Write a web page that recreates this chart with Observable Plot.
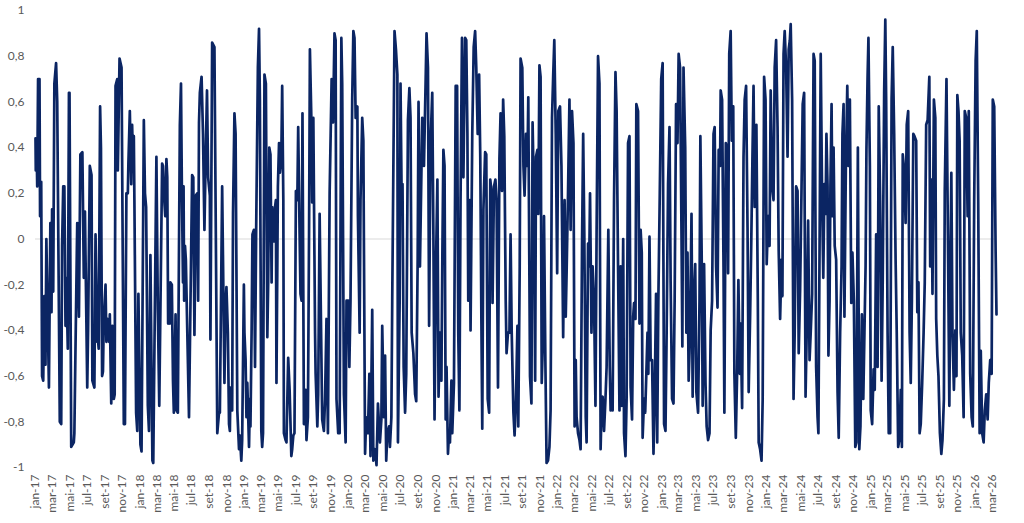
<!DOCTYPE html>
<html>
<head>
<meta charset="utf-8">
<script src="https://cdn.jsdelivr.net/npm/d3@7"></script>
<script src="https://cdn.jsdelivr.net/npm/@observablehq/plot@0.6"></script>
<style>
  html, body { margin: 0; padding: 0; background: #ffffff; }
  #chart { width: 1024px; height: 523px; }
</style>
</head>
<body>
<div id="chart"></div>
<script>
// Series start date (day 0)
const seriesStart = "2017-01-01";
// Days elapsed since seriesStart for each observation
const dayOffsets = [
0,1,4,6,9,14,16,20,23,27,31,35,38,47,52,56,58,62,66,72,76,85,90,93,97,101,105,108,113,117,119,125,134,136,140,146,152,157,164,169,173,181,184,190,196,199,206,210,216,218,221,226,229,233,236,239,245,248,253,258,260,265,269,274,277,280,286,288,294,
301,309,313,318,323,325,330,335,338,342,344,346,352,356,360,367,371,379,383,387,393,397,402,409,412,423,428,433,443,446,449,454,458,461,464,468,470,472,477,481,484,490,493,498,505,509,512,516,518,520,523,526,537,548,552,556,561,566,569,572,575,581,586,591,596,600,604,610,612,618,626,636,642,645,
653,661,665,668,673,677,680,682,688,691,696,700,706,712,715,720,723,729,731,735,738,741,747,750,752,756,759,764,768,772,778,782,785,790,793,796,801,806,811,814,818,822,826,828,834,838,841,843,848,852,855,860,863,867,869,875,878,884,889,895,898,902,906,911,916,919,924,927,931,934,939,945,948,953,957,960,965,968,972,978,980,986,989,994,
1003,1009,1013,1018,1023,1029,1036,1041,1046,1050,1053,1059,1064,1070,1073,1079,1085,1088,1094,1098,1102,1108,1112,1116,1120,1126,1128,1134,1137,1143,1147,1153,1157,1163,1168,1172,1178,1182,1188,1193,1198,1205,1210,1213,1219,1223,1227,1231,1237,1240,1245,1248,1252,1256,1261,1266,1268,1274,1277,1281,1284,1288,1293,1297,1303,1308,1312,1316,1322,1328,1332,1337,1340,1345,
1353,1359,1365,1368,1373,1377,1382,1388,1392,1396,1401,1406,1410,1415,1420,1423,1427,1431,1435,1438,1443,1447,1450,1455,1458,1464,1470,1475,1479,1483,1487,1492,1497,1503,1507,1511,1514,1519,1522,1528,1533,1538,1542,1547,1552,1556,1560,1563,1567,1573,1577,1582,1587,1591,1596,1599,1604,1609,1613,1618,1623,1627,1632,1636,1640,1645,1648,1653,1658,1662,1666,1672,1676,1681,1686,1689,1694,
1697,1703,1707,1711,1716,1721,1724,1730,1735,1739,1744,1748,1751,1756,1759,1763,1767,1771,1776,1779,1784,1788,1793,1798,1802,1807,1811,1815,1820,1825,1829,1835,1840,1846,1851,1855,1858,1863,1868,1872,1877,1882,1886,1890,1893,1898,1903,1907,1912,1916,1920,1925,1928,1933,1937,1940,1945,1949,1954,1959,1963,1968,1973,1977,1981,1984,1989,1994,1998,2004,2009,2012,2016,2019,2024,2029,2033,2038,2043,
2047,2051,2056,2059,2064,2068,2073,2078,2082,2087,2091,2094,2099,2102,2108,2113,2117,2121,2124,2129,2133,2137,2141,2144,2148,2152,2157,2162,2166,2171,2175,2179,2184,2189,2194,2199,2204,2208,2213,2218,2222,2227,2232,2236,2241,2246,2250,2255,2260,2263,2267,2273,2277,2281,2285,2290,2295,2299,2303,2308,2312,2318,2323,2326,2331,2334,2339,2344,2348,2353,2358,2362,2367,2372,2376,2381,2386,2390,2395,
2397,2402,2407,2410,2415,2420,2423,2427,2432,2436,2441,2445,2450,2455,2459,2464,2467,2472,2477,2481,2486,2491,2495,2500,2504,2508,2512,2516,2522,2527,2530,2535,2540,2544,2549,2554,2558,2563,2568,2572,2577,2582,2586,2591,2596,2600,2605,2610,2613,2617,2621,2626,2631,2635,2639,2642,2647,2652,2656,2661,2666,2670,2675,2680,2684,2689,2694,2698,2703,2708,2712,2717,2722,2726,2731,2736,2739,2744,
2747,2752,2756,2760,2764,2767,2771,2774,2778,2781,2785,2788,2792,2796,2801,2806,2810,2815,2820,2823,2827,2830,2835,2840,2844,2849,2854,2858,2863,2868,2872,2877,2882,2886,2891,2896,2900,2904,2907,2911,2914,2919,2922,2927,2932,2936,2941,2946,2950,2955,2960,2964,2969,2973,2976,2981,2985,2990,2995,2999,3004,3009,3013,3018,3023,3027,3031,3034,3039,3044,3048,3053,3058,3062,3066,3071,3075,
3081,3085,3089,3093,3097,3102,3107,3111,3116,3121,3127,3130,3135,3138,3143,3148,3151,3155,3159,3164,3169,3173,3178,3181,3187,3192,3197,3200,3204,3208,3213,3218,3222,3225,3229,3233,3237,3242,3247,3251,3256,3261,3265,3270,3275,3279,3284,3289,3293,3298,3303,3307,3312,3317,3321,3326,3331,3335,3340,3345,3349,3354,3359,3362
];
// Correlation values
const values = [
0.44,0.30,0.40,0.23,0.70,0.70,0.10,0.25,-0.60,-0.62,-0.25,-0.55,0.00,-0.65,0.07,-0.32,0.13,-0.23,0.68,0.77,0.60,-0.80,-0.81,-0.03,0.23,0.23,-0.38,-0.17,-0.48,0.64,0.64,-0.91,-0.89,-0.85,-0.47,0.07,-0.34,0.37,0.38,-0.17,0.12,-0.65,-0.40,0.32,0.28,-0.62,-0.65,0.02,-0.45,-0.43,-0.48,0.58,0.40,-0.60,-0.58,-0.35,-0.20,-0.45,-0.35,-0.45,-0.33,-0.72,-0.38,-0.70,-0.68,0.67,0.70,0.30,0.79,
0.75,-0.81,-0.81,0.20,0.20,0.33,0.56,0.24,0.50,0.30,0.45,0.17,-0.76,-0.84,-0.24,-0.90,-0.93,0.52,0.20,0.14,-0.73,-0.84,-0.07,-0.97,-0.98,0.36,-0.31,-0.73,0.33,0.32,0.20,0.10,0.35,0.27,-0.37,-0.24,-0.37,-0.19,-0.20,-0.62,-0.76,-0.33,-0.75,-0.76,0.50,0.68,0.23,-0.19,0.23,-0.27,-0.03,-0.09,-0.78,0.28,0.27,-0.42,0.19,0.20,-0.27,0.51,0.64,0.71,0.46,0.04,0.40,0.65,0.27,0.19,-0.44,0.86,0.84,-0.85,-0.76,-0.76,
0.23,-0.63,-0.28,-0.21,-0.41,-0.81,-0.84,-0.65,-0.75,0.11,0.55,0.46,-0.75,-0.92,-0.86,-0.97,-0.88,-0.20,-0.41,-0.53,-0.78,-0.63,-0.91,-0.70,-0.82,-0.41,0.02,0.04,-0.56,0.04,0.75,0.92,0.61,-0.84,-0.91,-0.85,0.72,0.68,-0.43,-0.19,0.40,0.37,-0.19,0.14,-0.01,0.14,0.17,-0.63,0.23,0.42,0.29,0.36,0.67,0.17,-0.85,-0.88,-0.89,-0.52,-0.66,-0.95,-0.92,-0.86,-0.85,0.21,0.17,0.49,0.02,-0.24,-0.27,0.55,-0.81,-0.66,-0.88,-0.78,0.02,0.83,0.53,0.16,0.53,-0.41,-0.59,-0.82,-0.68,0.11,
-0.79,-0.84,-0.70,-0.35,-0.85,0.20,0.70,0.51,0.90,0.87,-0.70,-0.85,-0.85,0.88,0.68,-0.68,-0.89,-0.27,-0.27,-0.56,-0.27,0.61,0.91,0.88,0.53,0.58,0.10,-0.41,0.17,0.53,0.43,-0.94,-0.78,-0.85,-0.59,-0.95,-0.31,-0.97,-0.92,-0.99,-0.72,-0.89,-0.79,-0.38,-0.78,-0.51,-0.97,-0.85,-0.82,-0.91,-0.78,-0.27,0.32,0.91,0.83,0.72,-0.89,-0.27,0.68,0.17,0.24,-0.56,-0.76,-0.59,0.52,0.66,0.53,-0.41,-0.50,-0.68,-0.71,-0.09,0.60,-0.12,
0.53,0.32,0.70,0.90,0.75,-0.38,0.42,0.64,0.02,-0.79,-0.12,0.26,-0.69,-0.41,-0.62,-0.12,0.39,0.32,-0.79,-0.56,-0.94,-0.84,-0.89,-0.62,-0.85,-0.63,0.67,0.67,-0.41,-0.75,0.17,0.88,0.27,0.88,0.87,0.46,-0.27,0.17,-0.40,0.46,0.84,0.91,0.75,0.46,0.72,0.36,-0.37,-0.83,0.13,0.38,0.37,-0.70,-0.76,0.26,0.20,-0.28,0.23,0.26,0.17,-0.65,0.35,0.55,0.21,0.61,0.45,-0.27,-0.50,-0.41,-0.41,0.02,-0.41,-0.76,-0.86,-0.70,-0.38,-0.82,-0.12,
0.79,0.75,0.32,0.19,0.46,0.32,0.62,-0.60,-0.72,0.51,0.17,-0.62,0.36,0.39,0.11,0.76,0.71,-0.63,-0.41,0.10,-0.56,-0.98,-0.97,-0.91,-0.75,0.53,0.71,0.87,0.46,-0.15,0.56,0.58,0.32,-0.43,0.17,-0.34,-0.15,0.20,0.61,0.04,0.56,0.42,-0.82,-0.53,-0.78,-0.85,-0.88,-0.92,-0.03,0.46,0.02,-0.78,-0.89,-0.02,-0.12,0.20,-0.41,-0.12,-0.27,-0.73,0.03,0.80,0.68,-0.92,-0.70,-0.69,-0.84,-0.70,-0.56,0.04,-0.56,-0.75,-0.66,-0.75,0.17,0.73,0.56,-0.12,-0.75,
-0.12,-0.73,0.00,-0.85,-0.95,-0.70,0.42,0.45,-0.65,-0.79,-0.34,-0.28,-0.35,0.59,0.56,-0.37,0.04,-0.06,-0.87,-0.70,-0.76,-0.59,-0.41,-0.59,0.01,-0.53,-0.53,-0.94,-0.70,-0.24,-0.89,-0.27,0.20,0.70,0.77,-0.81,-0.84,-0.41,0.24,0.49,-0.19,-0.70,-0.72,-0.27,0.59,0.42,0.81,0.75,0.02,-0.47,0.75,0.40,-0.41,-0.06,-0.62,-0.41,0.11,-0.69,-0.27,-0.11,-0.67,-0.76,-0.27,0.45,-0.12,-0.73,-0.11,-0.63,-0.82,-0.88,-0.85,-0.40,-0.27,0.46,0.49,-0.12,-0.30,0.39,0.32,
0.65,0.61,-0.12,-0.76,0.42,0.39,-0.15,0.81,0.91,0.43,0.58,-0.59,-0.87,-0.56,-0.18,-0.59,-0.37,-0.74,0.36,0.61,0.67,0.05,-0.67,-0.34,-0.02,0.34,0.67,0.14,0.50,-0.27,-0.89,-0.92,-0.97,-0.70,0.71,0.61,-0.11,0.10,-0.03,0.65,0.23,0.17,0.75,0.87,0.49,-0.05,-0.35,-0.09,-0.25,0.81,0.91,0.75,0.36,0.83,0.87,0.94,0.61,-0.70,-0.41,0.23,0.21,-0.50,-0.22,0.23,0.59,0.64,-0.69,-0.41,0.08,-0.53,-0.41,-0.24,0.81,0.78,-0.56,-0.78,-0.85,0.17,
0.81,0.17,-0.17,0.24,0.11,0.46,0.23,-0.51,-0.27,0.23,0.59,0.10,0.40,-0.03,-0.09,-0.67,-0.87,-0.41,-0.12,0.46,0.59,-0.34,0.32,0.67,0.32,0.61,-0.28,-0.06,-0.27,-0.91,-0.89,0.40,-0.92,-0.82,-0.33,-0.70,-0.41,-0.12,0.39,0.71,0.88,0.32,-0.75,-0.81,-0.57,-0.66,0.02,-0.56,0.58,0.17,-0.62,-0.18,0.64,0.96,0.61,-0.41,-0.85,-0.85,0.61,0.84,0.46,-0.09,-0.41,-0.91,-0.87,-0.66,-0.91,0.37,0.30,0.07,0.50,0.56,-0.41,-0.63,-0.27,0.46,0.45,
0.43,-0.32,-0.19,-0.85,-0.81,-0.63,-0.41,-0.19,0.50,0.52,0.71,-0.12,0.26,-0.24,0.61,0.53,-0.35,-0.51,-0.60,-0.85,-0.94,-0.88,-0.70,0.21,0.70,0.02,-0.73,-0.24,0.29,-0.41,-0.66,-0.40,-0.60,0.63,0.56,0.43,-0.41,-0.51,-0.78,0.56,0.53,0.10,0.56,-0.59,-0.78,-0.82,0.17,0.78,0.91,0.17,-0.85,-0.49,-0.85,-0.89,-0.75,-0.68,-0.79,-0.63,-0.53,-0.59,0.61,0.58,-0.06,-0.33
];
// Axis tick values and labels
const monthNames = ["jan","fev","mar","abr","mai","jun","jul","ago","set","out","nov","dez"];
const yTicks = [-1, -0.8, -0.6, -0.4, -0.2, 0, 0.2, 0.4, 0.6, 0.8, 1];
const xTickStart = "2017-01-01";
const xTickEnd = "2026-03-01";

const start = new Date(seriesStart + "T00:00:00Z");
const data = dayOffsets.map((d, i) => ({ date: d3.utcDay.offset(start, d), value: values[i] }));
const xTicks = d3.utcMonth.every(2).range(new Date(xTickStart + "T00:00:00Z"), d3.utcDay.offset(new Date(xTickEnd + "T00:00:00Z"), 1));

const chart = Plot.plot({
  width: 1024,
  height: 523,
  marginLeft: 35,
  marginRight: 28,
  marginTop: 10,
  marginBottom: 56,
  style: { fontFamily: "Lato, 'Liberation Sans', sans-serif", fontSize: "12px", color: "#595959", background: "#ffffff" },
  x: {
    type: "utc",
    domain: [start, data[data.length - 1].date],
    ticks: xTicks,
    tickFormat: d => monthNames[d.getUTCMonth()] + "-" + String(d.getUTCFullYear()).slice(2),
    tickRotate: -90,
    tickSize: 0,
    tickPadding: 7,
    label: null
  },
  y: {
    domain: [-1, 1],
    ticks: yTicks,
    tickFormat: d => String(+d.toFixed(1)).replace(".", ","),
    tickSize: 0,
    tickPadding: 11,
    label: null
  },
  marks: [
    Plot.ruleY([0], { stroke: "#d9d9d9", strokeWidth: 1 }),
    Plot.lineY(data, { x: "date", y: "value", stroke: "#0b2563", strokeWidth: 2.7, strokeLinejoin: "round", strokeLinecap: "round" })
  ]
});
document.getElementById("chart").appendChild(chart);
</script>
</body>
</html>
